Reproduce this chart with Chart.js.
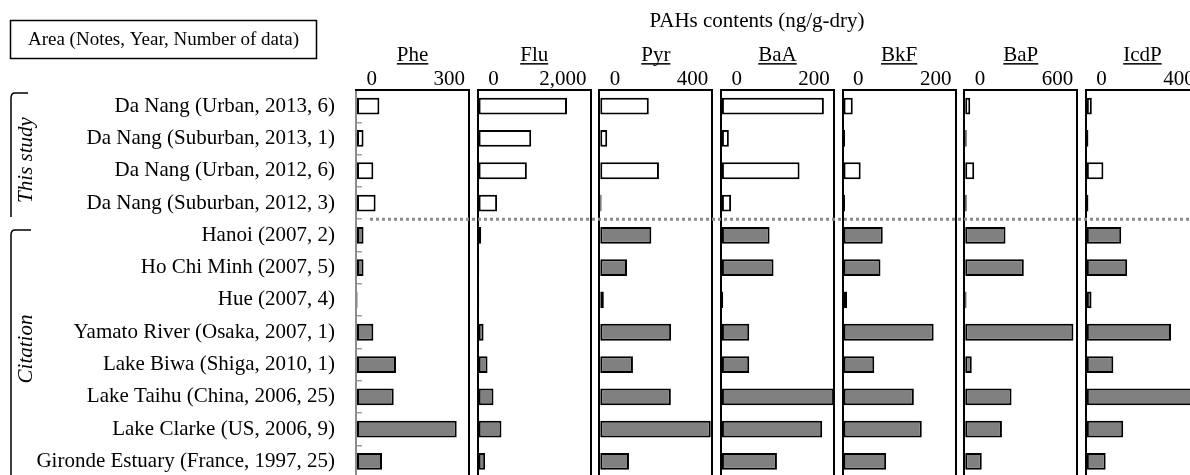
<!DOCTYPE html>
<html>
<head>
<meta charset="utf-8">
<script src="https://cdn.jsdelivr.net/npm/chart.js@4/dist/chart.umd.min.js"></script>
<style>
  html, body { margin: 0; padding: 0; background: #fff; overflow: hidden; width: 1190px; height: 475px; }
  #wrap { position: absolute; left: 0; top: 0; width: 1210px; height: 490px; }
</style>
</head>
<body>
<div id="wrap"><canvas id="c" width="1210" height="490"></canvas></div>
<script>
// ---------------- data ----------------
const categories = [
  "Da Nang (Urban, 2013, 6)",
  "Da Nang (Suburban, 2013, 1)",
  "Da Nang (Urban, 2012, 6)",
  "Da Nang (Suburban, 2012, 3)",
  "Hanoi (2007, 2)",
  "Ho Chi Minh (2007, 5)",
  "Hue (2007, 4)",
  "Yamato River (Osaka, 2007, 1)",
  "Lake Biwa (Shiga, 2010, 1)",
  "Lake Taihu (China, 2006, 25)",
  "Lake Clarke (US, 2006, 9)",
  "Gironde Estuary (France, 1997, 25)"
];
const groups = ["This study", "This study", "This study", "This study",
  "Citation", "Citation", "Citation", "Citation", "Citation", "Citation", "Citation", "Citation"];
const elements = ["Phe", "Flu", "Pyr", "BaA", "BkF", "BaP", "IcdP"];
const axisMax = [300, 2000, 400, 200, 200, 600, 400];

const phe  = [62, 20, 46, 52, 20, 20, 4, 46, 106, 100, 267, 69];
const flu  = [1580, 947, 870, 344, 63, 28, 28, 105, 175, 280, 421, 133];
const pyr  = [175, 28, 211, 8, 184, 98, 16, 254, 119, 253, 394, 105];
const baa  = [182, 14, 139, 18, 86, 93, 4, 50, 50, 200, 179, 99];
const bkf  = [18, 4.5, 32, 4.5, 71, 67, 8, 161, 56, 126, 140, 77];
const bap  = [32, 13, 53, 13, 219, 316, 12, 579, 40, 251, 200, 93];
const icdp = [21, 9, 62, 9, 125, 146, 20, 301, 97, 400, 132, 70];
const seriesValues = [phe, flu, pyr, baa, bkf, bap, icdp];

const headerText = "Area (Notes, Year, Number of data)";
const mainTitle = "PAHs contents (ng/g-dry)";

// ---------------- styling ----------------
const FAMILY = '"Liberation Serif", "Times New Roman", serif';
const CSSFONT = (size, style) => (style ? style + ' ' : '') + size + 'px ' + FAMILY;

const scales = {
  y: {
    type: 'category',
    position: 'left',
    offset: true,
    ticks: { font: { family: FAMILY, size: 21 }, color: '#000', padding: 27, autoSkip: false },
    grid: { display: true, drawOnChartArea: false, drawTicks: true, tickLength: -6,
            color: '#a0a0a0', lineWidth: 1.5, offset: true },
    border: { display: false },
    afterFit(s) { s.width = 356; s.paddingTop = 0; s.paddingBottom = 0; }
  }
};
elements.forEach((el, i) => {
  scales['x' + i] = {
    type: 'linear', axis: 'x', position: 'top', stack: 'panels', stackWeight: 113,
    weight: 100 - 2 * i,
    min: 0, max: axisMax[i],
    ticks: {
      stepSize: axisMax[i], align: 'inner', autoSkip: false, maxRotation: 0, padding: 0,
      font: { family: FAMILY, size: 21, lineHeight: 1 }, color: '#000',
      callback: (v, idx, t) => {
        const s = Number(v).toLocaleString('en-US');
        return idx === 0 ? '\u2002' + s : s + '\u2009';
      }
    },
    grid: { drawTicks: false, drawOnChartArea: true, lineWidth: 2,
            color: c => (i === 0 && c.index === 0) ? '#8c8c8c' : '#000' },
    border: { display: true, color: '#000', width: 2 },
    title: { display: true, text: el, color: '#000',
             font: { family: FAMILY, size: 21, lineHeight: 1.2 }, padding: { top: 0, bottom: 0.8 } }
  };
  if (i < elements.length - 1) {
    scales['gap' + i] = { type: 'linear', axis: 'x', position: 'top', stack: 'panels',
                          stackWeight: 8.5, weight: 99 - 2 * i, display: false };
  }
});

const datasets = elements.map((el, i) => ({
  label: el,
  data: seriesValues[i],
  xAxisID: 'x' + i,
  yAxisID: 'y',
  grouped: false,
  backgroundColor: groups.map(g => g === 'This study' ? '#ffffff' : '#808080'),
  borderColor: '#000',
  borderWidth: 2,
  borderSkipped: false,
  categoryPercentage: 1,
  barPercentage: 0.52
}));

const decor = {
  id: 'decor',
  afterDraw(chart) {
    const ctx = chart.ctx;
    const area = chart.chartArea;
    const ys = chart.scales.y;
    ctx.save();
    // header box
    ctx.strokeStyle = '#000';
    ctx.lineWidth = 1.5;
    ctx.strokeRect(10.5, 20.5, 306, 38);
    ctx.fillStyle = '#000';
    ctx.textAlign = 'center';
    ctx.textBaseline = 'middle';
    ctx.font = CSSFONT(19);
    ctx.fillText(headerText, 163.5, 40);
    // main title
    ctx.font = CSSFONT(21);
    ctx.fillText(mainTitle, 757, 21);
    // underline panel titles
    elements.forEach((el, i) => {
      const s = chart.scales['x' + i];
      const cx = (s.left + s.right) / 2;
      const w = ctx.measureText(el).width;
      const uy = s.top + 12.6 + 7.5;
      ctx.fillRect(cx - w / 2, uy, w, 1.5);
    });
    // dotted separator between groups
    const sepY = (ys.getPixelForValue(3) + ys.getPixelForValue(4)) / 2;
    ctx.strokeStyle = '#8c8c8c';
    ctx.lineWidth = 3;
    ctx.setLineDash([3, 3]);
    ctx.beginPath();
    ctx.moveTo(area.left + 14, sepY);
    ctx.lineTo(chart.width, sepY);
    ctx.stroke();
    ctx.setLineDash([]);
    // brackets
    ctx.strokeStyle = '#000';
    ctx.lineWidth = 1.5;
    ctx.beginPath();
    ctx.moveTo(28, 93);
    ctx.lineTo(15, 93);
    ctx.quadraticCurveTo(11, 93, 11, 98);
    ctx.lineTo(11, 217);
    ctx.stroke();
    ctx.beginPath();
    ctx.moveTo(31, 230);
    ctx.lineTo(15, 230);
    ctx.quadraticCurveTo(11, 230, 11, 235);
    ctx.lineTo(11, 490);
    ctx.stroke();
    // rotated group labels
    ctx.fillStyle = '#000';
    ctx.font = CSSFONT(21, 'italic');
    [["This study", 160], ["Citation", 349]].forEach(([t, cy]) => {
      ctx.save();
      ctx.translate(26, cy);
      ctx.rotate(-Math.PI / 2);
      ctx.fillText(t, 0, 0);
      ctx.restore();
    });
    ctx.restore();
  }
};

new Chart(document.getElementById('c'), {
  type: 'bar',
  data: { labels: categories, datasets },
  options: {
    indexAxis: 'y',
    responsive: false,
    animation: false,
    devicePixelRatio: 1,
    layout: { padding: { top: 43, left: 0, right: 11, bottom: 12.4 } },
    plugins: { legend: { display: false }, title: { display: false }, tooltip: { enabled: false } },
    scales
  },
  plugins: [decor]
});
</script>
</body>
</html>
